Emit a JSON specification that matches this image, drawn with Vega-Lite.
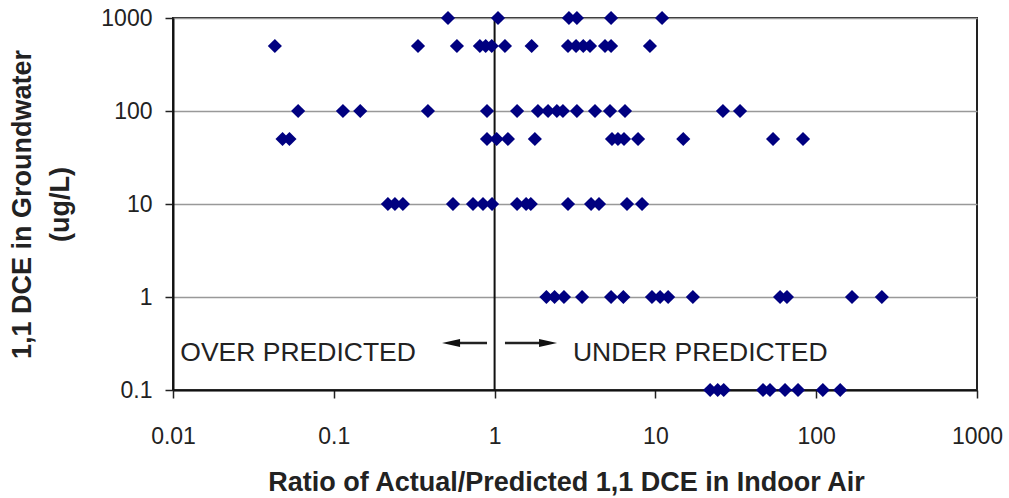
{
  "$schema": "https://vega.github.io/schema/vega-lite/v6.json",
  "width": 804,
  "height": 372,
  "autosize": "none",
  "padding": {"left": 173, "top": 18, "right": 32, "bottom": 108},
  "background": "white",
  "config": {
    "view": {"stroke": "#222", "strokeWidth": 2},
    "font": "Liberation Sans",
    "axis": {"labelFont": "Liberation Sans", "titleFont": "Liberation Sans"}
  },
  "layer": [
    {
      "data": {"values": [{}]},
      "mark": {"type": "rule", "color": "#111", "strokeWidth": 2},
      "encoding": {"x": {"datum": 1, "type": "quantitative"}}
    },
    {
      "data": {"values": [
        {"ratio": 0.513, "gw": 1000}, {"ratio": 1.05, "gw": 1000}, {"ratio": 2.9, "gw": 1000}, {"ratio": 3.25, "gw": 1000}, {"ratio": 5.3, "gw": 1000}, {"ratio": 11.0, "gw": 1000},
        {"ratio": 0.043, "gw": 500}, {"ratio": 0.334, "gw": 500}, {"ratio": 0.583, "gw": 500}, {"ratio": 0.81, "gw": 500}, {"ratio": 0.88, "gw": 500}, {"ratio": 0.96, "gw": 500}, {"ratio": 1.16, "gw": 500}, {"ratio": 1.7, "gw": 500}, {"ratio": 2.86, "gw": 500}, {"ratio": 3.21, "gw": 500}, {"ratio": 3.56, "gw": 500}, {"ratio": 3.92, "gw": 500}, {"ratio": 4.86, "gw": 500}, {"ratio": 5.3, "gw": 500}, {"ratio": 9.25, "gw": 500},
        {"ratio": 0.06, "gw": 100}, {"ratio": 0.114, "gw": 100}, {"ratio": 0.146, "gw": 100}, {"ratio": 0.385, "gw": 100}, {"ratio": 0.897, "gw": 100}, {"ratio": 1.38, "gw": 100}, {"ratio": 1.86, "gw": 100}, {"ratio": 2.15, "gw": 100}, {"ratio": 2.44, "gw": 100}, {"ratio": 2.66, "gw": 100}, {"ratio": 3.25, "gw": 100}, {"ratio": 4.21, "gw": 100}, {"ratio": 5.22, "gw": 100}, {"ratio": 6.47, "gw": 100}, {"ratio": 26.3, "gw": 100}, {"ratio": 33.6, "gw": 100},
        {"ratio": 0.048, "gw": 50}, {"ratio": 0.053, "gw": 50}, {"ratio": 0.897, "gw": 50}, {"ratio": 1.03, "gw": 50}, {"ratio": 1.21, "gw": 50}, {"ratio": 1.78, "gw": 50}, {"ratio": 5.37, "gw": 50}, {"ratio": 5.85, "gw": 50}, {"ratio": 6.38, "gw": 50}, {"ratio": 7.8, "gw": 50}, {"ratio": 14.9, "gw": 50}, {"ratio": 53.9, "gw": 50}, {"ratio": 82.8, "gw": 50},
        {"ratio": 0.217, "gw": 10}, {"ratio": 0.24, "gw": 10}, {"ratio": 0.269, "gw": 10}, {"ratio": 0.551, "gw": 10}, {"ratio": 0.734, "gw": 10}, {"ratio": 0.847, "gw": 10}, {"ratio": 0.964, "gw": 10}, {"ratio": 1.38, "gw": 10}, {"ratio": 1.57, "gw": 10}, {"ratio": 1.68, "gw": 10}, {"ratio": 2.86, "gw": 10}, {"ratio": 3.98, "gw": 10}, {"ratio": 4.46, "gw": 10}, {"ratio": 6.66, "gw": 10}, {"ratio": 8.26, "gw": 10},
        {"ratio": 2.1, "gw": 1}, {"ratio": 2.36, "gw": 1}, {"ratio": 2.7, "gw": 1}, {"ratio": 3.5, "gw": 1}, {"ratio": 5.3, "gw": 1}, {"ratio": 6.32, "gw": 1}, {"ratio": 9.52, "gw": 1}, {"ratio": 10.7, "gw": 1}, {"ratio": 12.0, "gw": 1}, {"ratio": 17.1, "gw": 1}, {"ratio": 59.6, "gw": 1}, {"ratio": 65.8, "gw": 1}, {"ratio": 167, "gw": 1}, {"ratio": 256, "gw": 1},
        {"ratio": 21.9, "gw": 0.1}, {"ratio": 24.4, "gw": 0.1}, {"ratio": 26.6, "gw": 0.1}, {"ratio": 46.7, "gw": 0.1}, {"ratio": 51.6, "gw": 0.1}, {"ratio": 64.0, "gw": 0.1}, {"ratio": 77.1, "gw": 0.1}, {"ratio": 110, "gw": 0.1}, {"ratio": 141, "gw": 0.1}
      ]},
      "mark": {"type": "point", "shape": "diamond", "filled": true, "color": "#000080", "opacity": 1, "size": 200},
      "encoding": {
        "x": {
          "field": "ratio", "type": "quantitative",
          "scale": {"type": "log", "domain": [0.01, 1000], "nice": false},
          "axis": {
            "title": "Ratio of Actual/Predicted 1,1 DCE in Indoor Air",
            "values": [0.01, 0.1, 1, 10, 100, 1000], "format": "~g",
            "grid": false, "labelFlush": false, "labelOverlap": false,
            "tickSize": 8, "tickWidth": 1.5, "tickColor": "#222",
            "domainColor": "#111", "domainWidth": 2,
            "labelFontSize": 23, "labelColor": "#222", "labelPadding": 27,
            "titleFontSize": 27, "titleFontWeight": "bold", "titleColor": "#222", "titlePadding": 21,
            "titleX": 393
          }
        },
        "y": {
          "field": "gw", "type": "quantitative",
          "scale": {"type": "log", "domain": [0.1, 1000], "nice": false},
          "axis": {
            "title": ["1,1 DCE in Groundwater", "(ug/L)"],
            "values": [0.1, 1, 10, 100, 1000], "format": "~g",
            "grid": true, "gridColor": "#999", "gridWidth": 1.5,
            "labelFlush": false, "labelOverlap": false,
            "tickSize": 8, "tickWidth": 1.5, "tickColor": "#222",
            "domainColor": "#111", "domainWidth": 2,
            "labelFontSize": 23, "labelColor": "#222", "labelPadding": 13,
            "titleFontSize": 27, "titleFontWeight": "bold", "titleColor": "#222",
            "titleLineHeight": 38, "titlePadding": 26
          }
        }
      }
    },
    {
      "data": {"values": [{}]},
      "mark": {"type": "text", "align": "left", "baseline": "middle", "fontSize": 26.5, "color": "#222", "font": "Liberation Sans"},
      "encoding": {"x": {"datum": 0.0111}, "y": {"datum": 0.25}, "text": {"value": "OVER PREDICTED"}}
    },
    {
      "data": {"values": [{}]},
      "mark": {"type": "text", "align": "left", "baseline": "middle", "fontSize": 26.5, "color": "#222", "font": "Liberation Sans"},
      "encoding": {"x": {"datum": 3.07}, "y": {"datum": 0.25}, "text": {"value": "UNDER PREDICTED"}}
    },
    {
      "data": {"values": [{}]},
      "mark": {"type": "rule", "color": "#222", "strokeWidth": 2.5},
      "encoding": {"x": {"datum": 0.55}, "x2": {"datum": 0.897}, "y": {"datum": 0.32}}
    },
    {
      "data": {"values": [{}]},
      "mark": {"type": "rule", "color": "#222", "strokeWidth": 2.5},
      "encoding": {"x": {"datum": 1.16}, "x2": {"datum": 2.1}, "y": {"datum": 0.32}}
    },
    {
      "data": {"values": [{}]},
      "mark": {"type": "point", "shape": "M-1,0L1,-0.45L1,0.45Z", "filled": true, "color": "#111", "opacity": 1, "size": 324},
      "encoding": {"x": {"datum": 0.536}, "y": {"datum": 0.32}}
    },
    {
      "data": {"values": [{}]},
      "mark": {"type": "point", "shape": "M1,0L-1,-0.45L-1,0.45Z", "filled": true, "color": "#111", "opacity": 1, "size": 324},
      "encoding": {"x": {"datum": 2.15}, "y": {"datum": 0.32}}
    }
  ]
}
